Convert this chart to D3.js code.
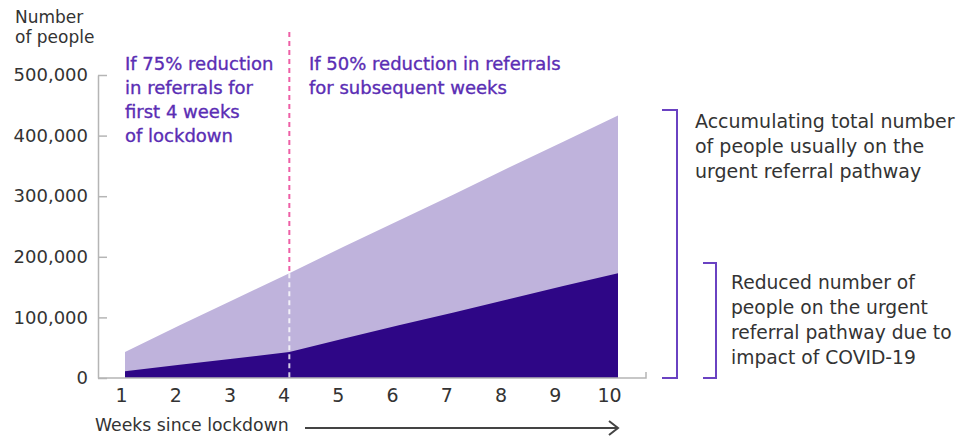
<!DOCTYPE html>
<html><head><meta charset="utf-8">
<script src="https://cdn.jsdelivr.net/npm/d3@7"></script>
<style>body{margin:0;background:#fff}svg{display:block;font-family:"DejaVu Sans",sans-serif}</style>
</head><body><svg id="c" width="973" height="438"></svg>
<script>
const weeks = [1,2,3,4,5,6,7,8,9,10];
const totalPeople = [43000,87000,130000,173000,217000,260000,303000,347000,390000,433000];
const reducedPeople = [11000,22000,32000,43000,65000,87000,108000,130000,152000,173000];
const yTicks = [0,100000,200000,300000,400000,500000];
const lockdownChangeWeek = 4;
const yTitle = ["Number","of people"];
const xTitle = "Weeks since lockdown";
const note1 = ["If 75% reduction","in referrals for","first 4 weeks","of lockdown"];
const note2 = ["If 50% reduction in referrals","for subsequent weeks"];
const legend1 = ["Accumulating total number","of people usually on the","urgent referral pathway"];
const legend2 = ["Reduced number of","people on the urgent","referral pathway due to","impact of COVID-19"];

const svg = d3.select("#c");
const x = d3.scaleLinear().domain([1,10]).range([125,618]);
const xLab = d3.scaleLinear().domain([1,10]).range([121,609]);
const y = d3.scaleLinear().domain([0,500000]).range([378,75]);
const light = "#bfb3dc", dark = "#2e0686", purple = "#5a2db4", grey = "#333";
const FONT = "DejaVu Sans";

const data = weeks.map((w,i)=>({w,t:totalPeople[i],r:reducedPeople[i]}));
const area = key => d3.area().x(d=>x(d.w)).y0(y(0)).y1(d=>y(d[key]));
svg.append("path").datum(data).attr("d",area("t")).attr("fill",light);
svg.append("path").datum(data).attr("d",area("r")).attr("fill",dark);

// y axis
const ya = svg.append("g").attr("transform","translate(98,0)")
  .call(d3.axisLeft(y).tickValues(yTicks).tickSize(-9).tickSizeOuter(0).tickPadding(10).tickFormat(d3.format(",")));
ya.select(".domain").attr("stroke","#b5b5b5").attr("stroke-width",1.5);
ya.selectAll(".tick line").attr("stroke","#b5b5b5").attr("stroke-width",1.5);
ya.selectAll("text").attr("font-size",18).attr("fill",grey).attr("font-family",FONT);

// x axis
svg.append("path").attr("d",`M98,${y(0)}H646V${y(0)-6}`).attr("fill","none").attr("stroke","#b5b5b5").attr("stroke-width",1.5);
const xa = svg.append("g").attr("transform",`translate(0,${y(0)})`)
  .call(d3.axisBottom(xLab).tickValues(weeks).tickSize(0).tickPadding(11).tickFormat(d3.format("d")));
xa.select(".domain").remove();
xa.selectAll("text").attr("font-size",19).attr("fill",grey).attr("font-family",FONT);

// dashed divider
const xd = x(lockdownChangeWeek), ytop = y(totalPeople[weeks.indexOf(lockdownChangeWeek)]);
svg.append("line").attr("x1",xd).attr("x2",xd).attr("y1",32).attr("y2",ytop)
  .attr("stroke","#ee5fa6").attr("stroke-width",2).attr("stroke-dasharray","5,4");
svg.append("line").attr("x1",xd).attr("x2",xd).attr("y1",ytop).attr("y2",y(0))
  .attr("stroke","#ffffff").attr("stroke-opacity",0.8).attr("stroke-width",2).attr("stroke-dasharray","5,4");

function lines(arr,x0,y0,dy,opts){
  const t = svg.append("text").attr("x",x0).attr("y",y0).attr("font-size",opts.size).attr("fill",opts.color)
    .attr("font-family",FONT);
  if(opts.bold) t.attr("stroke",opts.color).attr("stroke-width",0.35);
  arr.forEach((s,i)=>t.append("tspan").attr("x",x0).attr("y",y0+i*dy).text(s));
}
lines(yTitle,15,23,20,{size:17,color:grey});
lines(note1,125,70,24,{size:18,color:purple,bold:true});
lines(note2,309,70,24,{size:18,color:purple,bold:true});
lines(legend1,695,128,25,{size:19,color:grey});
lines(legend2,731,289,25,{size:18.7,color:grey});
svg.append("text").attr("x",95).attr("y",431).attr("font-size",17.3).attr("fill",grey).attr("font-family",FONT).text(xTitle);

// brackets
svg.append("path").attr("d",`M662,110H677V${y(0)}H662`).attr("fill","none").attr("stroke","#6a42c2").attr("stroke-width",2);
svg.append("path").attr("d",`M703,263H716V${y(0)}H703`).attr("fill","none").attr("stroke","#6a42c2").attr("stroke-width",2);

// arrow
svg.append("path").attr("d","M305,428H618M609,421L618,428L609,435").attr("fill","none").attr("stroke","#444").attr("stroke-width",2);
</script></body></html>
